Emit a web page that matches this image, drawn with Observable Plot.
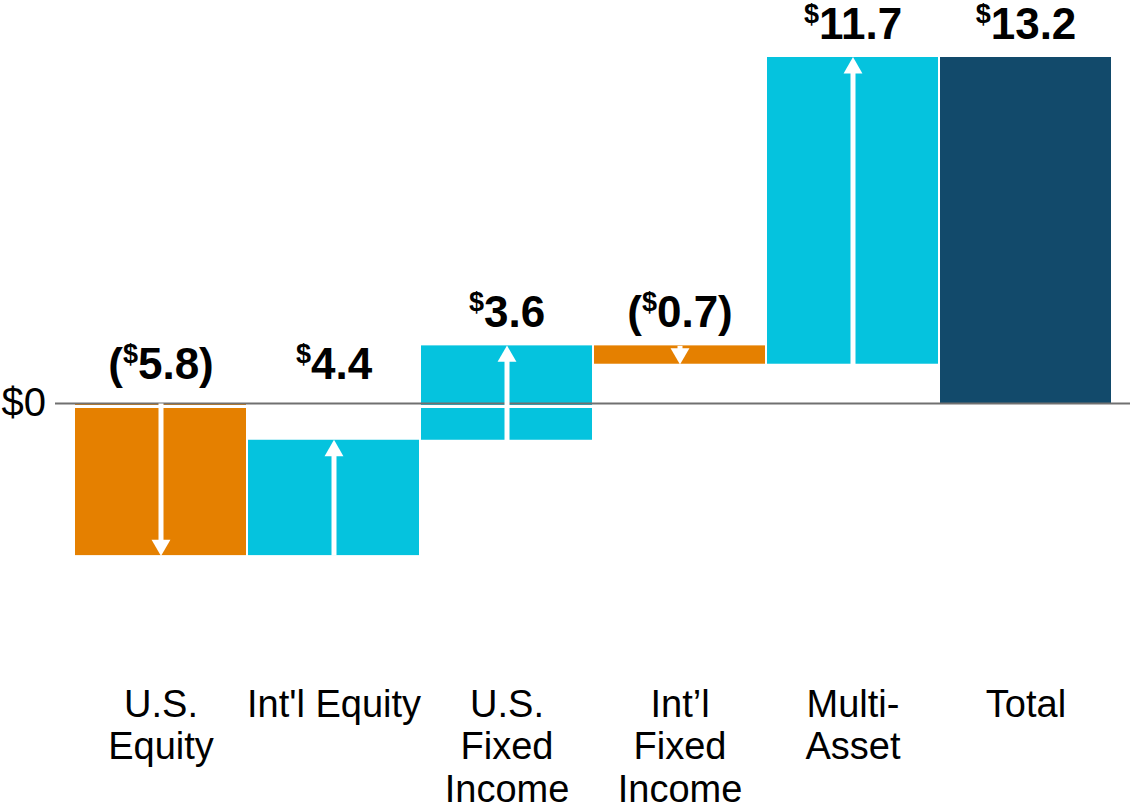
<!DOCTYPE html>
<html>
<head>
<meta charset="utf-8">
<script src="https://cdn.jsdelivr.net/npm/d3@7"></script>
<script src="https://cdn.jsdelivr.net/npm/@observablehq/plot@0.6"></script>
<style>
  html, body { margin: 0; padding: 0; background: #fff; }
  #chart svg { display: block; }
</style>
</head>
<body>
<div id="chart"></div>
<script>
// ---- data ----
const categories = ["U.S.\nEquity", "Int'l Equity", "U.S.\nFixed\nIncome", "Int\u2019l\nFixed\nIncome", "Multi-\nAsset", "Total"];
const changes = [-5.8, 4.4, 3.6, -0.7, 11.7, 13.2];
const isTotal = [false, false, false, false, false, true];
const zeroTick = ["$0"];

const colors = {neg: "#E58000", pos: "#05C3DE", total: "#124A6B"};

// build waterfall table
let run = 0;
const rows = categories.map((c, i) => {
  let start, end;
  if (isTotal[i]) { start = 0; end = changes[i]; }
  else { start = run; end = run + changes[i]; run = end; }
  const v = changes[i];
  const label = (v < 0 ? "(" : "") + "$" + Math.abs(v).toFixed(1) + (v < 0 ? ")" : "");
  return {
    cat: c, start, end, value: v, label,
    top: Math.max(start, end, 0),
    kind: isTotal[i] ? "total" : (v < 0 ? "neg" : "pos"),
    dir: end >= start ? "up" : "down"
  };
});
const flows = rows.filter(d => d.kind !== "total");

const font = "Liberation Sans, Arial, Helvetica, sans-serif";

const plot = Plot.plot({
  width: 1130,
  height: 810,
  marginLeft: 73,
  marginRight: 18,
  marginTop: 57,
  marginBottom: 171,
  style: {fontFamily: font, background: "#fff"},
  x: {domain: categories, paddingInner: 0.012, paddingOuter: 0, axis: null},
  y: {domain: [-9, 13.2], axis: null},
  marks: [
    Plot.rectY(rows.filter(d => d.kind !== "total"), {
      x: "cat", y1: "start", y2: "end",
      fill: d => colors[d.kind]
    }),
    Plot.ruleY([0], {stroke: "#fff", strokeWidth: 3, dy: 3, insetLeft: -18, insetRight: -18}),
    Plot.rectY(rows.filter(d => d.kind === "total"), {
      x: "cat", y1: "start", y2: "end",
      fill: d => colors[d.kind]
    }),
    Plot.ruleY([0], {stroke: "#707070", strokeWidth: 2, insetLeft: -18, insetRight: -18}),
    // arrow shafts
    Plot.arrow(flows, {
      x1: "cat", x2: "cat", y1: "start", y2: "end",
      stroke: "#fff", strokeWidth: 5, headLength: 0, insetEnd: 11, strokeLinecap: "butt"
    }),
    // arrow heads
    Plot.dot(flows.filter(d => d.dir === "up"), {
      x: "cat", y: "end", symbol: "triangle", r: 7, fill: "#fff", stroke: null, dy: 10.5
    }),
    Plot.dot(flows.filter(d => d.dir === "down"), {
      x: "cat", y: "end", symbol: "triangle", r: 7, fill: "#fff", stroke: null, dy: -10.5, rotate: 180
    }),
    // value labels (bars touching zero from below)
    Plot.text(rows.filter(d => d.top === 0), {
      x: "cat", y: "top", text: "label",
      fontSize: 44, fontWeight: "bold", fill: "#000",
      lineAnchor: "bottom", dy: -25
    }),
    // value labels (bars above zero)
    Plot.text(rows.filter(d => d.top !== 0), {
      x: "cat", y: "top", text: "label",
      fontSize: 44, fontWeight: "bold", fill: "#000",
      lineAnchor: "bottom", dy: -19
    }),
    // category labels
    Plot.text(rows, {
      x: "cat", text: "cat", frameAnchor: "bottom",
      lineAnchor: "top", dy: 47, fontSize: 38, lineHeight: 1.12, fill: "#000"
    }),
    // zero tick label
    Plot.text(zeroTick, {
      y: [0], text: d => d, frameAnchor: "left", textAnchor: "start", dx: -72,
      fontSize: 40, fill: "#000"
    })
  ]
});

// superscript the "$" in value labels
d3.select(plot).selectAll("text").each(function() {
  const t = this.textContent;
  if (!/^\(?\$\d+\.\d\)?$/.test(t)) return;
  const idx = t.indexOf("$");
  const pre = t.slice(0, idx), post = t.slice(idx + 1);
  const sel = d3.select(this);
  sel.text(null);
  if (pre) sel.append("tspan").text(pre);
  sel.append("tspan").attr("font-size", 27).attr("dy", -16).text("$");
  sel.append("tspan").attr("dy", 16).text(post);
});

document.getElementById("chart").appendChild(plot);
</script>
</body>
</html>
